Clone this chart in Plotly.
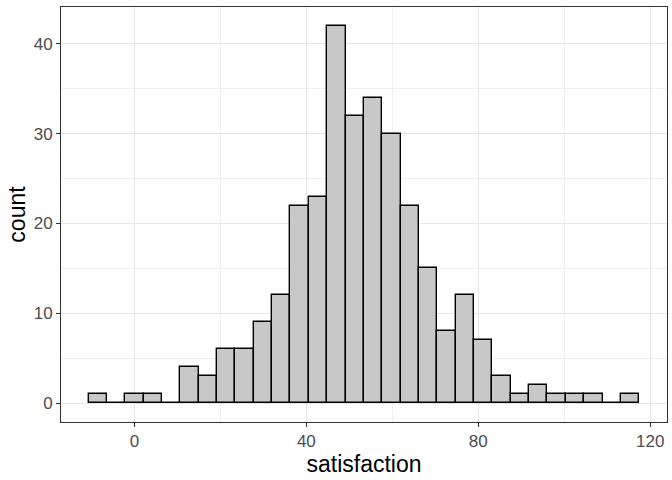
import plotly.graph_objects as go

bin_width = 4.27
first_center = -8.53
counts = [1, 0, 1, 1, 0, 4, 3, 6, 6, 9, 12, 22, 23, 42, 32, 34, 30, 22, 15, 8,
          12, 7, 3, 1, 2, 1, 1, 1, 0, 1]
centers = [first_center + bin_width * i for i in range(len(counts))]

x_ticks = [0, 40, 80, 120]
y_ticks = [0, 10, 20, 30, 40]

fig = go.Figure()
fig.add_trace(go.Bar(
    x=centers, y=counts, width=bin_width,
    marker=dict(color="#C8C8C8", line=dict(color="black", width=1.4)),
    hoverinfo="x+y",
))

axis_common = dict(
    showline=True, mirror=True, linecolor="#333333", linewidth=1,
    ticks="outside", ticklen=4, tickcolor="#333333", tickwidth=1,
    showgrid=True, gridcolor="#E6E6E6", gridwidth=1.1,
    zeroline=False, automargin=False,
    tickfont=dict(family="Liberation Sans, Arial, sans-serif", size=17, color="#4D4D4D"),
    title_font=dict(family="Liberation Sans, Arial, sans-serif", size=23, color="black"),
)

fig.update_xaxes(
    range=[-17.08, 123.9], tickvals=x_ticks, title_text="satisfaction",
    minor=dict(showgrid=True, gridcolor="#F0F0F0", gridwidth=0.6, tick0=20, dtick=40, ticks=""),
    title_standoff=2,
    **axis_common,
)
fig.update_yaxes(
    range=[-2.1, 44.1], tickvals=y_ticks, title_text="count",
    minor=dict(showgrid=True, gridcolor="#F0F0F0", gridwidth=0.6, tick0=5, dtick=10, ticks=""),
    title_standoff=1,
    **axis_common,
)

fig.update_layout(
    width=672, height=480,
    margin=dict(l=61, r=5, t=7, b=58),
    plot_bgcolor="white", paper_bgcolor="white",
    showlegend=False, bargap=0,
)

fig.write_html(
    "out.html",
    config={"displayModeBar": False},
    post_script="document.body.style.margin='0';document.body.style.overflow='hidden';",
)
